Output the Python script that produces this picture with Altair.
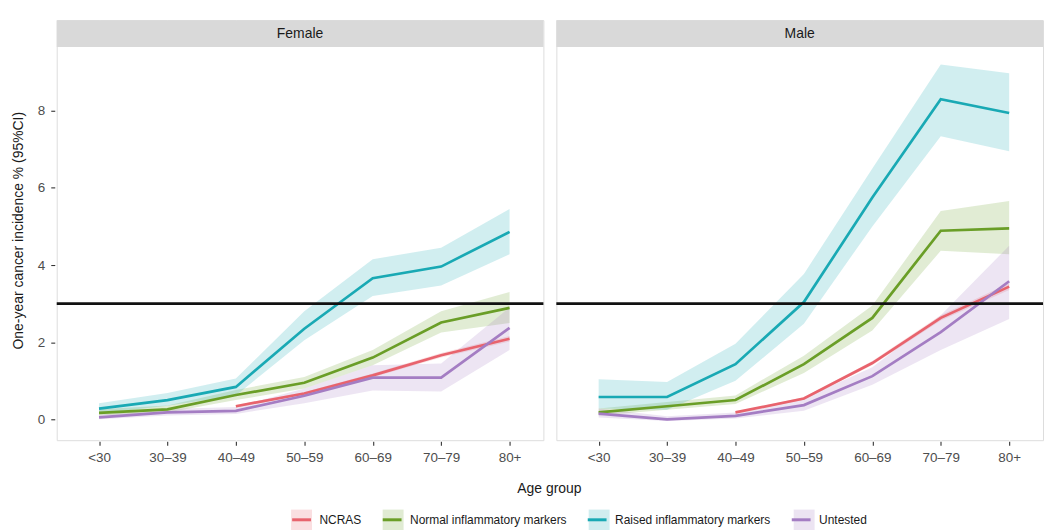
import altair as alt
import pandas as pd

AGES = ["<30", "30–39", "40–49", "50–59", "60–69", "70–79", "80+"]
GROUPS = ["NCRAS", "Normal inflammatory markers", "Raised inflammatory markers", "Untested"]
COLORS = ["#e8636d", "#6a9e27", "#19a9b4", "#a47dc3"]
SEXES = ["Female", "Male"]
THRESHOLD = 3

# Female: estimate, lower and upper 95% CI per age group
f_ncras = [None, None, 0.34, 0.67, 1.14, 1.66, 2.09]
f_ncras_lo = [None, None, 0.31, 0.63, 1.09, 1.60, 2.02]
f_ncras_hi = [None, None, 0.37, 0.71, 1.19, 1.72, 2.16]
f_normal = [0.17, 0.26, 0.63, 0.95, 1.60, 2.51, 2.89]
f_normal_lo = [0.10, 0.18, 0.50, 0.80, 1.40, 2.25, 2.50]
f_normal_hi = [0.26, 0.36, 0.76, 1.10, 1.80, 2.80, 3.30]
f_raised = [0.28, 0.50, 0.84, 2.35, 3.66, 3.96, 4.86]
f_raised_lo = [0.15, 0.35, 0.62, 2.05, 3.20, 3.47, 4.28]
f_raised_hi = [0.42, 0.68, 1.06, 2.80, 4.15, 4.45, 5.45]
f_untested = [0.05, 0.18, 0.22, 0.61, 1.08, 1.08, 2.37]
f_untested_lo = [0.00, 0.10, 0.14, 0.42, 0.75, 0.72, 1.80]
f_untested_hi = [0.12, 0.27, 0.32, 0.80, 1.40, 1.45, 2.90]

# Male
m_ncras = [None, None, 0.18, 0.54, 1.46, 2.63, 3.44]
m_ncras_lo = [None, None, 0.16, 0.51, 1.41, 2.56, 3.35]
m_ncras_hi = [None, None, 0.20, 0.57, 1.51, 2.70, 3.53]
m_normal = [0.18, 0.34, 0.50, 1.43, 2.63, 4.89, 4.95]
m_normal_lo = [0.10, 0.25, 0.40, 1.20, 2.30, 4.37, 4.28]
m_normal_hi = [0.28, 0.45, 0.62, 1.65, 2.95, 5.40, 5.66]
m_raised = [0.58, 0.58, 1.43, 3.04, 5.75, 8.30, 7.94]
m_raised_lo = [0.28, 0.25, 1.00, 2.48, 5.00, 7.34, 6.95]
m_raised_hi = [1.04, 0.97, 1.96, 3.77, 6.50, 9.20, 8.97]
m_untested = [0.15, 0.00, 0.09, 0.37, 1.12, 2.26, 3.58]
m_untested_lo = [0.05, -0.04, 0.02, 0.22, 0.90, 1.80, 2.60]
m_untested_hi = [0.28, 0.08, 0.18, 0.55, 1.35, 2.70, 4.50]

SERIES = {
    "Female": {
        "NCRAS": (f_ncras, f_ncras_lo, f_ncras_hi),
        "Normal inflammatory markers": (f_normal, f_normal_lo, f_normal_hi),
        "Raised inflammatory markers": (f_raised, f_raised_lo, f_raised_hi),
        "Untested": (f_untested, f_untested_lo, f_untested_hi),
    },
    "Male": {
        "NCRAS": (m_ncras, m_ncras_lo, m_ncras_hi),
        "Normal inflammatory markers": (m_normal, m_normal_lo, m_normal_hi),
        "Raised inflammatory markers": (m_raised, m_raised_lo, m_raised_hi),
        "Untested": (m_untested, m_untested_lo, m_untested_hi),
    },
}

# The ribbon key uses a padded copy of the group name so that Vega-Lite keeps
# its legend (filled squares) apart from the line legend (strokes).
BANDS = [g + " " for g in GROUPS]

rows = []
for sex in SEXES:
    for g, b in zip(GROUPS, BANDS):
        est, lo, hi = SERIES[sex][g]
        for a, e, l, h in zip(AGES, est, lo, hi):
            if e is None:
                continue
            rows.append(dict(sex=sex, group=g, band=b, gi=GROUPS.index(g),
                             age=a, est=e, lo=l, hi=h))
df = pd.DataFrame(rows)

FONT = "Liberation Sans"
W = 489
PLOT_H = 395
STRIP = 27
X_RANGE = [42.5, 455]
Y_LO, Y_HI = -0.54, 9.65
# top of the y scale reaches into the strip band above the panel
Y_TOP = Y_HI + (Y_HI - Y_LO) * STRIP / PLOT_H

xscale = alt.Scale(type="point", domain=AGES, range=X_RANGE, padding=0)
yscale = alt.Scale(domain=[Y_LO, Y_TOP], nice=False, zero=False)
fill_scale = alt.Scale(domain=BANDS, range=COLORS)
stroke_scale = alt.Scale(domain=GROUPS, range=COLORS)

LEG_X, LEG_Y = 234, 490
LEG_COMMON = dict(
    orient="none", legendX=LEG_X, legendY=LEG_Y, direction="horizontal",
    columns=4, title=None, symbolSize=441, symbolStrokeWidth=3,
    labelFontSize=12, labelFont=FONT, columnPadding=14, labelOffset=6, labelLimit=400,
)
SQUARE_PATH = "M-1,-1H1V1H-1Z"
DASH_PATH = "M-0.9,0H0.9"

xaxis = alt.Axis(
    title=None,
    labelAngle=0, labelFontSize=13.5, labelColor="#4d4d4d", labelFont=FONT, labelPadding=5,
    grid=True, gridColor="white", gridWidth=1.1, domain=False,
    tickColor="#333333", tickSize=4, tickWidth=1.1,
)
yaxis = alt.Axis(
    values=list(range(10)),
    labelExpr="datum.value % 2 === 0 ? datum.label : ''",
    title="One-year cancer incidence % (95%CI)",
    titleFontSize=14, titleFontWeight="normal", titleColor="#1a1a1a", titleFont=FONT,
    titlePadding=12,
    labelFontSize=13.5, labelColor="#4d4d4d", labelFont=FONT, labelPadding=6,
    grid=True, gridColor="white",
    gridWidth={"condition": {"test": "datum.value % 2 === 1", "value": 0.55}, "value": 1.1},
    domain=False,
    tickColor="#333333", tickSize=4, tickWidth=1.1,
    tickOpacity={"condition": {"test": "datum.value % 2 === 1", "value": 0}, "value": 1},
)

x_enc = alt.X("age:N", sort=AGES, scale=xscale, axis=xaxis)

bands = alt.Chart().mark_area(opacity=0.2).encode(
    x=x_enc,
    y=alt.Y("lo:Q", scale=yscale, axis=yaxis),
    y2="hi:Q",
    fill=alt.Fill(
        "band:N", scale=fill_scale,
        legend=alt.Legend(symbolType=SQUARE_PATH, symbolOpacity=0.2,
                          symbolStrokeColor="transparent",
                          labelOpacity=0, labelExpr="trim(datum.label)", **LEG_COMMON),
    ),
)
lines = alt.Chart().mark_line(strokeWidth=2.7).encode(
    x=x_enc,
    y=alt.Y("est:Q", scale=yscale, axis=yaxis),
    stroke=alt.Stroke(
        "group:N", scale=stroke_scale,
        legend=alt.Legend(symbolType=DASH_PATH, labelColor="#1a1a1a", **LEG_COMMON),
    ),
    order="gi:Q",
)
thresh = alt.Chart().mark_rule(color="#111111", strokeWidth=2.6).encode(
    y=alt.datum(THRESHOLD, scale=yscale),
).transform_aggregate(n="count()", groupby=["sex"])

# facet strip drawn at the top of each panel
strip_bg = alt.Chart().mark_rect(color="#d9d9d9", strokeWidth=0).encode(
    x=alt.value(0), x2=alt.value(W), y=alt.value(0), y2=alt.value(STRIP)
).transform_aggregate(n="count()", groupby=["sex"])
strip_txt = alt.Chart().mark_text(
    fontSize=14, font=FONT, color="#1a1a1a", baseline="middle"
).encode(
    text="sex:N", x=alt.value(W / 2), y=alt.value(STRIP / 2 + 0.5)
).transform_aggregate(n="count()", groupby=["sex"])

chart = (
    alt.layer(bands, lines, thresh, strip_bg, strip_txt, data=df)
    .properties(width=W, height=PLOT_H + STRIP)
    .facet(
        column=alt.Column(
            "sex:N", sort=SEXES,
            header=alt.Header(
                labels=False, title="Age group", titleOrient="bottom",
                titleFontSize=14, titleFontWeight="normal", titleColor="#1a1a1a",
                titleFont=FONT, titlePadding=8,
            ),
        ),
        spacing=9,
    )
    .properties(padding={"left": 11, "top": 18, "right": 0, "bottom": 0})
    .configure_view(fill="#ebebeb", stroke="transparent", strokeWidth=0)
    .configure(background="white")
)

chart.save("out.html", embed_options={"renderer": "svg", "actions": False})
